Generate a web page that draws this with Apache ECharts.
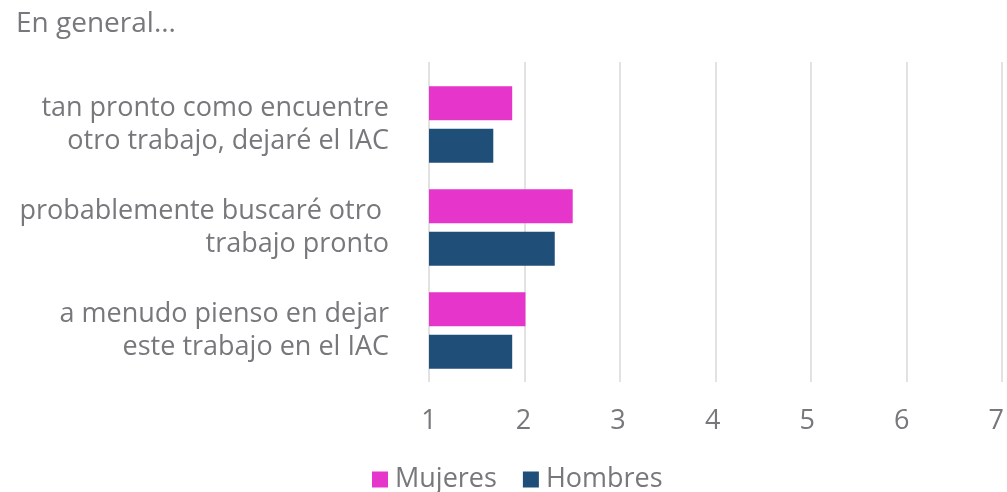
<!DOCTYPE html>
<html>
<head>
<meta charset="utf-8">
<script src="https://cdn.jsdelivr.net/npm/echarts@6/dist/echarts.min.js"></script>
<style>
  html, body { margin: 0; padding: 0; background: #ffffff; }
  #chart { width: 1007px; height: 492px; }
</style>
</head>
<body>
<div id="chart"></div>
<script>
const titleText = 'En general...';
const categories = [
  'tan pronto como encuentre\notro trabajo, dejaré el IAC',
  'probablemente buscaré otro \ntrabajo pronto',
  'a menudo pienso en dejar\neste trabajo en el IAC'
];
const seriesNames = ['Mujeres', 'Hombres'];
const mujeres = [1.88, 2.52, 2.02];
const hombres = [1.68, 2.33, 1.88];
const axisMin = 1;
const axisMax = 7;

const textColor = '#78787c';
const fontFamily = '"Open Sans", "Noto Sans", sans-serif';
const textStyle = { color: textColor, fontSize: 27, fontWeight: 400, fontFamily: fontFamily };

const chart = echarts.init(document.getElementById('chart'));
chart.setOption({
  backgroundColor: '#ffffff',
  animation: false,
  title: {
    text: titleText,
    left: 16,
    top: 10,
    padding: 0,
    textStyle: Object.assign({}, textStyle, { fontSize: 28 })
  },
  legend: {
    data: seriesNames,
    top: 466,
    left: 372,
    padding: 0,
    itemWidth: 16,
    itemHeight: 16,
    itemGap: 26,
    icon: 'rect',
    textStyle: Object.assign({}, textStyle, { padding: [0, 0, 0, 2] })
  },
  grid: [
    // bars
    { left: 429, right: 5, top: 73, bottom: 110, containLabel: false },
    // vertical gridlines, reaching slightly above the first category
    { left: 429, right: 5, top: 62, bottom: 110, containLabel: false }
  ],
  xAxis: [
    {
      gridIndex: 0,
      type: 'value',
      min: axisMin,
      max: axisMax,
      interval: 1,
      axisLine: { show: false },
      axisTick: { show: false },
      axisLabel: Object.assign({}, textStyle, { margin: 26 }),
      splitLine: { show: false }
    },
    {
      gridIndex: 1,
      type: 'value',
      min: axisMin,
      max: axisMax,
      interval: 1,
      axisLine: { show: false },
      axisTick: { show: false },
      axisLabel: { show: false },
      splitLine: { show: true, lineStyle: { color: '#d9d9d9', width: 1.5 } }
    }
  ],
  yAxis: [
    {
      gridIndex: 0,
      type: 'category',
      data: categories,
      inverse: true,
      axisLine: { show: false },
      axisTick: { show: false },
      axisLabel: Object.assign({}, textStyle, {
        margin: 40, align: 'right', lineHeight: 33, padding: [8, 0, 0, 0]
      })
    },
    {
      gridIndex: 1,
      type: 'category',
      data: categories,
      inverse: true,
      show: false
    }
  ],
  series: [
    {
      name: seriesNames[0],
      type: 'bar',
      xAxisIndex: 0,
      yAxisIndex: 0,
      data: mujeres,
      itemStyle: { color: '#e535cb' },
      barGap: '25%',
      barCategoryGap: '25.5%',
      z: 3
    },
    {
      name: seriesNames[1],
      type: 'bar',
      xAxisIndex: 0,
      yAxisIndex: 0,
      data: hombres,
      itemStyle: { color: '#1f4e79' },
      barGap: '25%',
      barCategoryGap: '25.5%',
      z: 3
    }
  ]
});
</script>
</body>
</html>
